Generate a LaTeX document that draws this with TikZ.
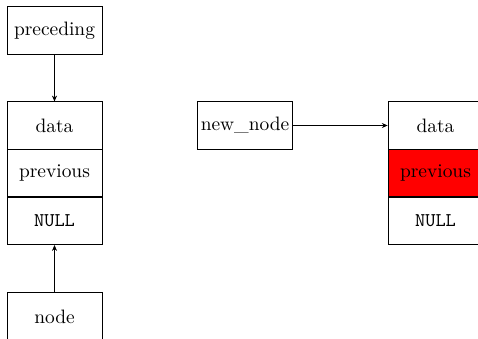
\documentclass[tikz,border=0pt]{standalone}
\usetikzlibrary{arrows.meta}
\begin{document}
\begin{tikzpicture}[x=0.515pt,y=-0.515pt,
  cell/.style={draw, minimum width=48.9pt, minimum height=24.4pt, inner sep=0pt, anchor=center, line width=0.4pt},
  link/.style={-{Stealth[length=3pt,width=2.6pt]}, line width=0.4pt}]
\useasboundingbox (0,0) rectangle (478,338);
\node[cell] (preceding) at (54.5,30.5) {preceding};
\node[cell] (ldata) at (54.5,125.5) {data};
\node[cell] (lprev) at (54.5,173) {previous};
\node[cell] (lnull) at (54.5,221) {\texttt{NULL}};
\node[cell] (node) at (54.5,316.5) {node};
\node[cell] (newnode) at (245,125.5) {new\_node};
\node[cell] (rdata) at (435.5,125.5) {data};
\node[cell, fill=red] (rprev) at (435.5,173) {previous};
\node[cell] (rnull) at (435.5,221) {\texttt{NULL}};
\draw[link] (preceding) -- (ldata);
\draw[link] (node) -- (lnull);
\draw[link] (newnode) -- (rdata);
\end{tikzpicture}
\end{document}
